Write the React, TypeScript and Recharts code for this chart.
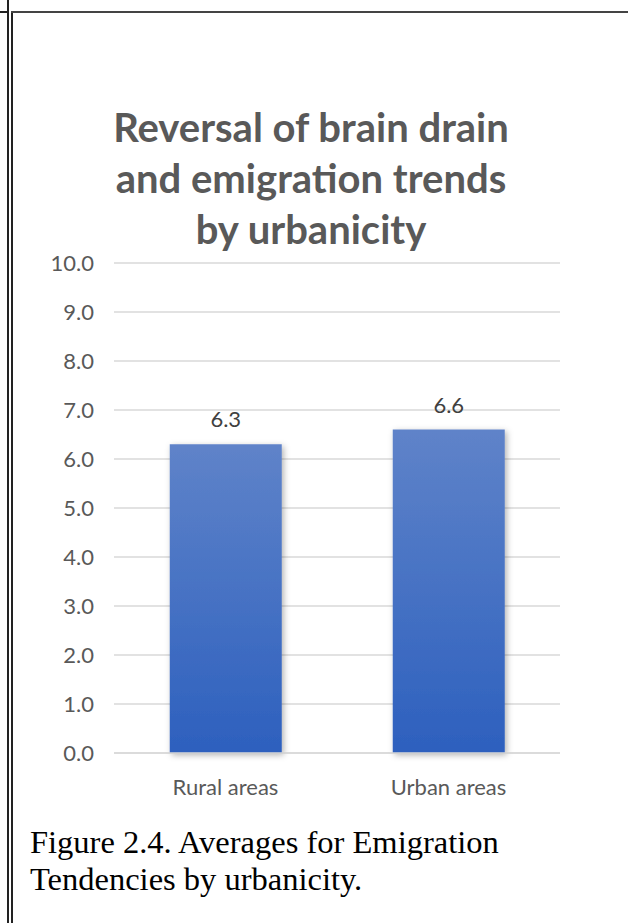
import React from "react";
import { BarChart, Bar, XAxis, YAxis, CartesianGrid, LabelList } from "recharts";

const categories = ["Rural areas", "Urban areas"];
const averages = [6.3, 6.6];
const yTicks = [0, 1, 2, 3, 4, 5, 6, 7, 8, 9, 10];
const titleLines = ["Reversal of brain drain", "and emigration trends", "by urbanicity"];
const captionLines = ["Figure 2.4. Averages for Emigration", "Tendencies by urbanicity."];

const data = categories.map((name, i) => ({ name, value: averages[i] }));

const FONT = "Lato, 'Open Sans', sans-serif";
const GREY_TEXT = "#595959";
const GRID = "#D9D9D9";

export default function App() {
  return (
    <div style={{ position: "absolute", left: 0, top: 0, width: 628, height: 923, background: "#fff", overflow: "hidden" }}>
      {/* page frame: double rule on the left, single rule on top */}
      <div style={{ position: "absolute", left: 7, top: 0, width: 1.5, height: 923, background: "#222" }} />
      <div style={{ position: "absolute", left: 11, top: 11, width: 1.5, height: 912, background: "#222" }} />
      <div style={{ position: "absolute", left: 0, top: 11, width: 8, height: 1.5, background: "#222" }} />
      <div style={{ position: "absolute", left: 11, top: 11, width: 617, height: 1.5, background: "#444" }} />

      <div
        style={{
          position: "absolute",
          left: 12,
          width: 598,
          top: 102,
          textAlign: "center",
          fontFamily: FONT,
          fontWeight: 700,
          fontSize: 40,
          lineHeight: "51px",
          color: GREY_TEXT,
        }}
      >
        {titleLines.map((t) => (
          <div key={t}>{t}</div>
        ))}
      </div>

      <div style={{ position: "absolute", left: 0, top: 0 }}>
        <BarChart
          width={628}
          height={923}
          data={data}
          margin={{ top: 263, right: 68, bottom: 130, left: 0 }}
          barCategoryGap="25%"
        >
          <defs>
            <linearGradient id="barFill" x1="0" y1="0" x2="0" y2="1">
              <stop offset="0%" stopColor="#5F83C9" />
              <stop offset="100%" stopColor="#2D60BE" />
            </linearGradient>
            <filter id="barShadow" x="-20%" y="-10%" width="140%" height="120%">
              <feDropShadow dx="2" dy="2" stdDeviation="3" floodColor="#000" floodOpacity="0.3" />
            </filter>
          </defs>
          <CartesianGrid vertical={false} stroke={GRID} strokeWidth={1.5} />
          <XAxis
            dataKey="name"
            height={40}
            axisLine={{ stroke: GRID, strokeWidth: 1.5 }}
            tickLine={false}
            tickSize={0}
            tickMargin={26}
            tick={{ fill: GREY_TEXT, fontSize: 22, fontFamily: FONT }}
          />
          <YAxis
            width={114}
            domain={[0, 10]}
            ticks={yTicks}
            interval={0}
            axisLine={false}
            tickLine={false}
            tickSize={0}
            tickMargin={20}
            tickFormatter={(v: number) => v.toFixed(1)}
            tick={{ fill: GREY_TEXT, fontSize: 22, fontFamily: FONT }}
          />
          <Bar dataKey="value" fill="url(#barFill)" filter="url(#barShadow)" isAnimationActive={false}>
            <LabelList
              dataKey="value"
              position="top"
              offset={17}
              formatter={(v: number) => v.toFixed(1)}
              style={{ fill: "#404040", fontSize: 22, fontFamily: FONT }}
            />
          </Bar>
        </BarChart>
      </div>

      <div
        style={{
          position: "absolute",
          left: 30,
          top: 824,
          fontFamily: "'Liberation Serif', 'Times New Roman', serif",
          fontSize: 32.5,
          lineHeight: "37px",
          color: "#000",
        }}
      >
        {captionLines.map((t) => (
          <div key={t}>{t}</div>
        ))}
      </div>
    </div>
  );
}
